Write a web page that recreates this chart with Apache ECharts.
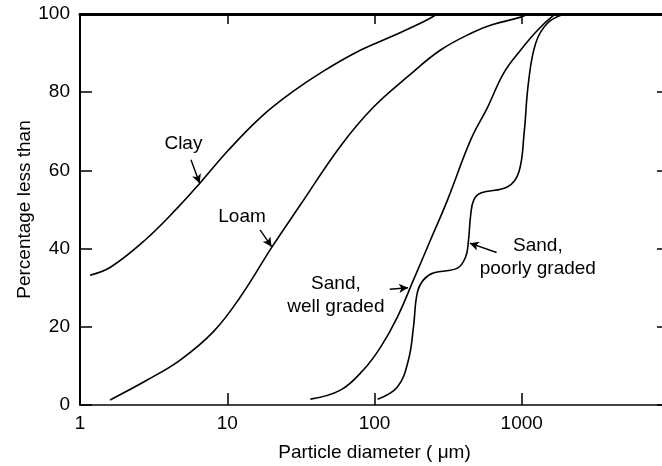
<!DOCTYPE html>
<html>
<head>
<meta charset="utf-8">
<script src="https://cdn.jsdelivr.net/npm/echarts@6/dist/echarts.min.js"></script>
<style>
html,body{margin:0;padding:0;background:#fff;}
#chart{width:662px;height:466px;}
</style>
</head>
<body>
<div id="chart"></div>
<script>
// Particle diameter (µm) and percentage finer
var clayX = [1.17, 1.62, 2.77, 4.64, 6.54, 10.2, 17.0, 28, 45, 76, 128, 215, 267];
var clayY = [33.2, 35.3, 42.2, 50.6, 56.8, 65.2, 73.7, 80.2, 85.4, 90.3, 94.1, 98.0, 100];

var loamX = [1.6, 2.86, 4.79, 8.03, 12.2, 20.2, 31.4, 58.7, 98.5, 167, 281, 472, 620, 984, 1090];
var loamY = [1.3, 6.4, 11.5, 18.7, 27.5, 40.5, 51.2, 66.2, 76.2, 83.9, 90.8, 95.4, 97.2, 99.2, 100];

var wellX = [36.7, 58.7, 84.2, 110, 143, 184, 240, 313, 450, 587, 754, 984, 1285, 1650, 1750];
var wellY = [1.5, 3.8, 9, 14.8, 22.5, 32, 42.2, 52.4, 67.8, 76.2, 84.9, 90.8, 95.9, 99.7, 100];

var poorX = [105, 143, 170, 184, 195, 215, 253, 366, 416, 433, 450, 472, 527, 802, 956, 1038, 1110, 1245, 1500, 1940];
var poorY = [1.5, 4.6, 11.5, 20, 28.6, 32, 33.8, 35, 37.9, 41.4, 48.6, 52.4, 54.2, 55.8, 59.6, 69.6, 82.4, 92.6, 97.7, 100];

var xTickLabels = ['1', '10', '100', '1000'];
var yTicks = [0, 20, 40, 60, 80, 100];

// annotation labels and arrows (data coordinates)
var labels = [
  {name: 'Clay', at: [5.04, 66.8]},
  {name: 'Loam', at: [12.6, 48.1]},
  {name: 'Sand,\nwell graded', at: [54.7, 28.1]},
  {name: 'Sand,\npoorly graded', at: [1286, 37.9]}
];
var arrows = [
  [[5.67, 62.7], [6.49, 56.7]],
  [[16.7, 44.8], [20.0, 40.5]],
  [[127, 29.6], [169, 30.0]],
  [[675, 39.0], [444, 41.4]]
];

function zip(xs, ys){ return xs.map(function(x, i){ return [x, ys[i]]; }); }

var FONT = '"Liberation Sans", Arial, sans-serif';
var TXT = '#000';

function curve(name, xs, ys){
  return {
    name: name, type: 'line', xAxisIndex: 0, yAxisIndex: 0,
    data: zip(xs, ys), symbol: 'none', smooth: 0.4,
    lineStyle: {color: '#000', width: 1.6}, silent: true
  };
}

var series = [
  curve('Clay', clayX, clayY),
  curve('Loam', loamX, loamY),
  curve('Sand, well graded', wellX, wellY),
  curve('Sand, poorly graded', poorX, poorY)
];

series.push({
  type: 'scatter', xAxisIndex: 0, yAxisIndex: 0, data: [], silent: true,
  markPoint: {
    symbol: 'circle', symbolSize: 0, silent: true,
    label: {show: true, position: 'inside', formatter: '{b}', color: TXT,
            fontFamily: FONT, fontSize: 19, lineHeight: 23, align: 'center'},
    data: labels.map(function(l){ return {name: l.name, coord: l.at}; })
  },
  markLine: {
    silent: true, symbol: ['none', 'arrow'], symbolSize: [7, 9],
    label: {show: false},
    lineStyle: {color: '#000', width: 1.4, type: 'solid'},
    data: arrows.map(function(a){ return [{coord: a[0]}, {coord: a[1]}]; })
  }
});

var chart = echarts.init(document.getElementById('chart'));
chart.setOption({
  animation: false,
  backgroundColor: '#fff',
  grid: {left: 80, right: -7, top: 14, bottom: 61, outerBoundsMode: 'none', containLabel: false},
  xAxis: [
    {
      type: 'log', logBase: 10, min: 1, max: 10000, position: 'bottom',
      axisLine: {show: true, onZero: false, lineStyle: {color: '#444', width: 2}},
      axisTick: {show: true, inside: true, length: 12, lineStyle: {color: '#000', width: 1.5}},
      axisLabel: {show: true, color: TXT, fontFamily: FONT, fontSize: 19, margin: 9,
        formatter: function(v){ var s = String(Math.round(v)); return xTickLabels.indexOf(s) >= 0 ? s : ''; }},
      splitLine: {show: false}, minorTick: {show: false}
    },
    {
      type: 'log', logBase: 10, min: 1, max: 10000, position: 'top',
      axisLine: {show: true, onZero: false, lineStyle: {color: '#000', width: 3}},
      axisTick: {show: true, inside: true, length: 10, lineStyle: {color: '#000', width: 1.5}},
      axisLabel: {show: false}, splitLine: {show: false}
    }
  ],
  yAxis: [
    {
      type: 'value', min: 0, max: 100, interval: 20, position: 'left',
      name: 'Percentage less than', nameLocation: 'middle', nameGap: 46, nameRotate: 90,
      nameMoveOverlap: false,
      nameTextStyle: {color: TXT, fontFamily: FONT, fontSize: 19},
      axisLine: {show: true, onZero: false, lineStyle: {color: '#000', width: 2}},
      axisTick: {show: true, inside: true, length: 12, lineStyle: {color: '#000', width: 1.5}},
      axisLabel: {show: true, color: TXT, fontFamily: FONT, fontSize: 19, margin: 10,
        formatter: function(v){ return yTicks.indexOf(v) >= 0 ? String(v) : ''; }},
      splitLine: {show: false}
    },
    {
      type: 'value', min: 0, max: 100, interval: 20, position: 'right',
      axisLine: {show: true, onZero: false, lineStyle: {color: '#000', width: 1.5}},
      axisTick: {show: true, inside: true, length: 12, lineStyle: {color: '#000', width: 1.5}},
      axisLabel: {show: false}, splitLine: {show: false}
    }
  ],
  series: series
});
// place the axis title under the middle of the plot
var mid = chart.convertToPixel({xAxisIndex: 0}, 100);
chart.setOption({graphic: [{type: 'text', x: mid, y: 453, silent: true,
  style: {text: 'Particle diameter ( \u03bcm)', align: 'center', verticalAlign: 'middle', fill: TXT, font: '19px ' + FONT}}]});
</script>
</body>
</html>
